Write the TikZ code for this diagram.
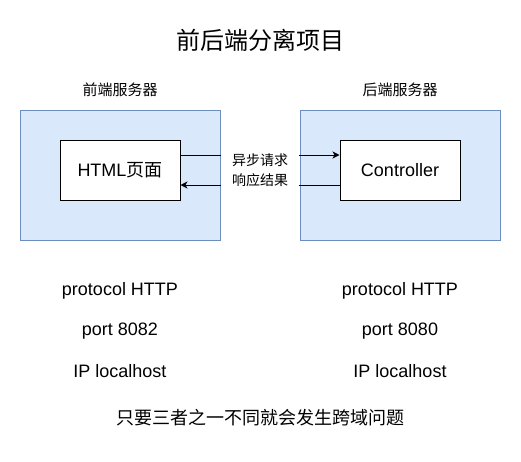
\documentclass[tikz,border=0pt]{standalone}
\usepackage{fontspec}
\setmainfont{Liberation Sans}
\newfontfamily\cjk{Noto Sans CJK SC}
\usetikzlibrary{arrows.meta}
\definecolor{serverfill}{HTML}{DAE8FC}
\definecolor{serverline}{HTML}{6C8EBF}

\begin{document}
\begin{tikzpicture}[x=1pt,y=-1pt,
  server/.style={draw=serverline,fill=serverfill,line width=1pt,minimum width=200pt,minimum height=130pt},
  inner/.style={draw=black,fill=white,line width=1pt,minimum width=120pt,minimum height=60pt,font=\fontsize{18}{20}\selectfont},
  info/.style={font=\fontsize{18}{20}\selectfont},
  link/.style={line width=1pt,-{Stealth[length=7pt,width=7pt,inset=2pt]}}]
  \useasboundingbox (0,0) rectangle (521,461);
  \node[font=\cjk\fontsize{24}{28}\selectfont] (title) at (260,40) {前后端分离项目};
  \node[font=\cjk\fontsize{15}{18}\selectfont] (fname) at (120,90) {前端服务器};
  \node[font=\cjk\fontsize{15}{18}\selectfont] (bname) at (400,90) {后端服务器};
  \node[server] (front) at (120,175) {};
  \node[server] (back) at (400,175) {};
  \node[inner] (html) at (120,170) {HTML{\cjk 页面}};
  \node[inner] (ctrl) at (400,170) {Controller};
  \draw[link] ([yshift=15pt]html.east) -- ([yshift=15pt]ctrl.west);
  \draw[link] ([yshift=-15pt]ctrl.west) -- ([yshift=-15pt]html.east);
  \node[fill=white,minimum width=78pt,minimum height=60pt,align=center,inner sep=0pt,
        font=\cjk\fontsize{14}{20}\selectfont] (msg) at (260,170) {异步请求\\响应结果};
  \node[info] (fproto) at (120,291) {protocol HTTP};
  \node[info] (fport) at (120,331) {port 8082};
  \node[info] (fip) at (120,371) {IP localhost};
  \node[info] (bproto) at (400,291) {protocol HTTP};
  \node[info] (bport) at (400,331) {port 8080};
  \node[info] (bip) at (400,371) {IP localhost};
  \node[font=\cjk\fontsize{18}{20}\selectfont] (note) at (260,418) {只要三者之一不同就会发生跨域问题};
\end{tikzpicture}
\end{document}
